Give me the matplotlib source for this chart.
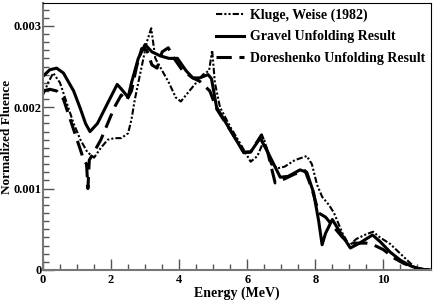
import matplotlib.pyplot as plt
from matplotlib.ticker import MultipleLocator, FixedFormatter, FixedLocator

# Kluge, Weise (1982)
kluge_e = [0, 0.15, 0.3, 0.5, 0.7, 0.9, 1.1, 1.3, 1.5, 1.7, 1.9, 2.1, 2.3, 2.5, 2.6, 2.7,
           2.9, 3.05, 3.18, 3.3, 3.5, 3.7, 3.9, 4.05, 4.3, 4.5, 4.7, 4.88, 4.97, 5.05, 5.2,
           5.5, 5.8, 6.1, 6.3, 6.5, 6.7, 6.9, 7.1, 7.4, 7.75, 7.9, 8.05, 8.2, 8.4, 8.55,
           8.8, 9.0, 9.2, 9.5, 9.7, 9.9, 10.2, 10.5, 10.7, 10.9, 11.1, 11.4]
kluge_f = [2.15, 2.3, 2.42, 2.3, 2.05, 1.8, 1.6, 1.45, 1.38, 1.5, 1.6, 1.62, 1.62, 1.68,
           1.85, 2.1, 2.5, 2.8, 2.97, 2.6, 2.45, 2.3, 2.12, 2.07, 2.2, 2.3, 2.4, 2.45, 2.7,
           2.3, 2.0, 1.76, 1.55, 1.33, 1.4, 1.6, 1.3, 1.25, 1.27, 1.35, 1.4, 1.3, 1.05,
           0.9, 0.8, 0.7, 0.45, 0.3, 0.38, 0.44, 0.47, 0.4, 0.32, 0.2, 0.12, 0.04, 0.01, 0]

# Gravel unfolding
gravel_e = [0, 0.2, 0.4, 0.6, 0.9, 1.1, 1.25, 1.38, 1.6, 1.9, 2.18, 2.35, 2.5, 2.6, 2.8,
            3.0, 3.2, 3.45, 3.7, 3.95, 4.2, 4.4, 4.6, 4.85, 4.95, 5.1, 5.5, 5.9, 6.1, 6.38,
            6.6, 6.97, 7.2, 7.55, 7.75, 7.95, 8.1, 8.2, 8.3, 8.5, 8.75, 9.03, 9.3, 9.68,
            9.9, 10.2, 10.5, 10.8, 11.0, 11.2, 11.4]
gravel_f = [2.38, 2.46, 2.48, 2.42, 2.2, 1.98, 1.8, 1.7, 1.8, 2.05, 2.28, 2.2, 2.12, 2.3,
            2.6, 2.77, 2.68, 2.63, 2.6, 2.6, 2.45, 2.36, 2.36, 2.4, 2.35, 2.0, 1.72, 1.44,
            1.45, 1.62, 1.45, 1.14, 1.15, 1.23, 1.2, 0.95, 0.6, 0.31, 0.45, 0.62, 0.45,
            0.27, 0.33, 0.43, 0.35, 0.22, 0.12, 0.05, 0.02, 0.005, 0]

# Doreshenko unfolding
dore_e = [0, 0.2, 0.4, 0.6, 0.8, 1.0, 1.2, 1.28, 1.32, 1.36, 1.5, 1.7, 1.9, 2.1, 2.3,
          2.45, 2.6, 2.75, 2.9, 3.05, 3.2, 3.35, 3.5, 3.68, 3.85, 4.1, 4.4, 4.6, 4.9, 5.1,
          5.5, 5.9, 6.1, 6.42, 6.6, 6.82, 7.1, 7.4, 7.7, 7.9, 8.1, 8.3, 8.5, 8.8, 9.0,
          9.3, 9.5, 9.7, 10.0, 10.3, 10.6, 10.9, 11.2, 11.4]
dore_f = [2.2, 2.22, 2.2, 2.1, 1.85, 1.6, 1.35, 1.3, 1.0, 1.35, 1.45, 1.6, 1.8, 2.0,
          2.15, 2.08, 2.2, 2.5, 2.72, 2.7, 2.52, 2.48, 2.68, 2.73, 2.6, 2.45, 2.36, 2.32,
          2.2, 1.98, 1.72, 1.45, 1.45, 1.66, 1.45, 1.07, 1.12, 1.18, 1.22, 1.0, 0.7,
          0.65, 0.55, 0.4, 0.33, 0.33, 0.33, 0.31, 0.25, 0.15, 0.08, 0.03, 0.005, 0]

kluge_f = [v / 1000 for v in kluge_f]
gravel_f = [v / 1000 for v in gravel_f]
dore_f = [v / 1000 for v in dore_f]

plt.rcParams['font.family'] = ['Liberation Serif', 'DejaVu Serif']
plt.rcParams['font.weight'] = 'bold'

fig = plt.figure(figsize=(4.36, 3.02), dpi=100)
ax = fig.add_axes([0.0986, 0.106, 0.89, 0.884])

ax.plot(kluge_e, kluge_f, color='black', lw=1.5, ls=(0, (3, 1, 1, 1, 1, 1)),
        label='Kluge, Weise (1982)')
ax.plot(gravel_e, gravel_f, color='black', lw=2.2, label='Gravel Unfolding Result')
ax.plot(dore_e, dore_f, color='black', lw=2.2, ls=(0, (5, 2.5)),
        label='Doreshenko Unfolding Result')

ax.set_xlim(0, 11.4)
ax.set_ylim(0, 0.00328)
ax.xaxis.set_major_locator(MultipleLocator(2))
ax.xaxis.set_minor_locator(MultipleLocator(0.5))
ax.yaxis.set_major_locator(FixedLocator([0, 0.001, 0.002, 0.003]))
ax.yaxis.set_major_formatter(FixedFormatter(['0', '0.001', '0.002', '0.003']))
ax.yaxis.set_minor_locator(MultipleLocator(0.0001))
ax.tick_params(which='both', direction='in', top=False, right=False,
               labelsize=9, color='#555555')
ax.tick_params(which='major', length=8, width=1)
ax.tick_params(which='minor', length=4, width=1)
ax.tick_params(axis='x', pad=3)
ax.tick_params(axis='y', pad=1)
for s in ['left', 'bottom']:
    ax.spines[s].set_color('#777777')
    ax.spines[s].set_linewidth(1.5)

ax.set_xlabel('Energy (MeV)', fontsize=10, fontweight='bold', labelpad=0)
ax.set_ylabel('Normalized Fluence', fontsize=9.5, fontweight='bold')
ax.yaxis.set_label_coords(-0.077, 0.5)
ax.legend(loc='upper right', frameon=False, fontsize=10, handlelength=2.0,
          handletextpad=0.45, labelspacing=0.6, borderaxespad=0.1,
          borderpad=0.3)

fig.savefig('out.png', dpi=100)
